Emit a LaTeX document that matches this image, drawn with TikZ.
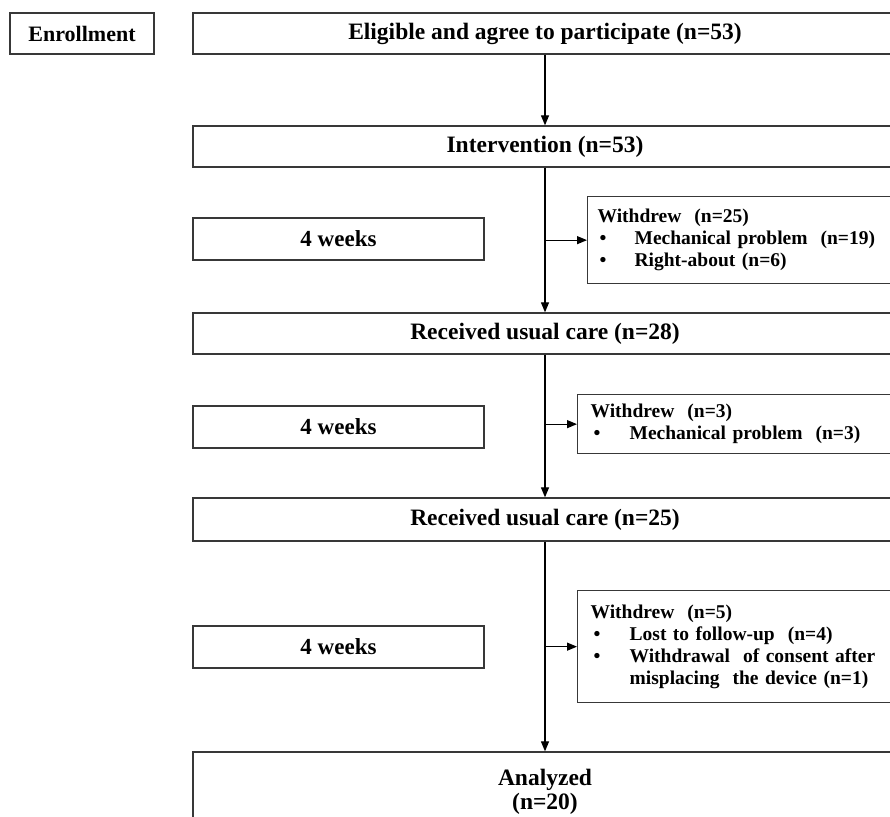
\documentclass[tikz,border=0pt]{standalone}
\usepackage{fontspec}
\setmainfont{Liberation Serif}
\usetikzlibrary{arrows.meta}
\begin{document}
\begin{tikzpicture}[x=1pt,y=-1pt,
  box/.style={draw=black!78, line width=1.3pt, rectangle, inner sep=0pt},
  mainbox/.style={box, minimum width=704pt, font=\fontsize{23.5}{24}\selectfont\bfseries},
  weekbox/.style={box, minimum width=291pt, minimum height=42pt, font=\fontsize{23}{26}\selectfont\bfseries},
  wbox/.style={box, anchor=north west, align=left, font=\fontsize{19.5}{22}\selectfont\bfseries},
  arr/.style={-{Triangle[length=10pt,width=8pt]}, line width=1.2pt, black}]
\clip (0,0) rectangle (890,816);
\fill[white] (0,0) rectangle (890,816);

\node[box, minimum width=144pt, minimum height=41pt, font=\fontsize{22}{24}\selectfont\bfseries] (enr) at (82,33.5) {Enrollment};
\node[mainbox, minimum height=41pt] (elig) at (545,33.5) {Eligible and agree to participate (n=53)};
\node[mainbox, minimum height=41pt] (int) at (545,146.5) {Intervention (n=53)};
\node[mainbox, minimum height=41pt] (rc1) at (545,333.5) {Received usual care (n=28)};
\node[mainbox, minimum height=43pt] (rc2) at (545,519.5) {Received usual care (n=25)};
\node[mainbox, minimum height=80pt, align=center] (ana) at (545,792) {Analyzed\\(n=20)};

\node[weekbox] (wk1) at (338.5,239) {4 weeks};
\node[weekbox] (wk2) at (338.5,427) {4 weeks};
\node[weekbox] (wk3) at (338.5,647) {4 weeks};

\node[wbox, inner xsep=10pt, text width=300pt, minimum height=87pt] (w1) at (587,196)
  {Withdrew\ \ (n=25)\\
   \makebox[37pt][l]{\hspace{2pt}•}Mechanical problem\ \ (n=19)\\
   \makebox[37pt][l]{\hspace{2pt}•}Right-about (n=6)};
\node[wbox, inner xsep=13pt, text width=300pt, minimum height=59pt] (w2) at (577,394)
  {Withdrew\ \ (n=3)\\
   \makebox[39pt][l]{\hspace{3pt}•}Mechanical problem\ \ (n=3)};
\node[wbox, inner xsep=13pt, text width=300pt, minimum height=112pt] (w3) at (577,590)
  {Withdrew\ \ (n=5)\\
   \makebox[39pt][l]{\hspace{3pt}•}Lost to follow-up\ \ (n=4)\\
   \makebox[39pt][l]{\hspace{3pt}•}Withdrawal\ \ of consent after\\
   \hspace*{39pt}misplacing\ \ the device (n=1)};

\draw[arr] (elig) -- (int);
\draw[arr] (int) -- (rc1);
\draw[arr] (rc1) -- (rc2);
\draw[arr] (rc2) -- (ana);
\draw[arr] (w1.west -| int.south) -- (w1.west);
\draw[arr] (w2.west -| rc1.south) -- (w2.west);
\draw[arr] (w3.west -| rc2.south) -- (w3.west);
\end{tikzpicture}
\end{document}
